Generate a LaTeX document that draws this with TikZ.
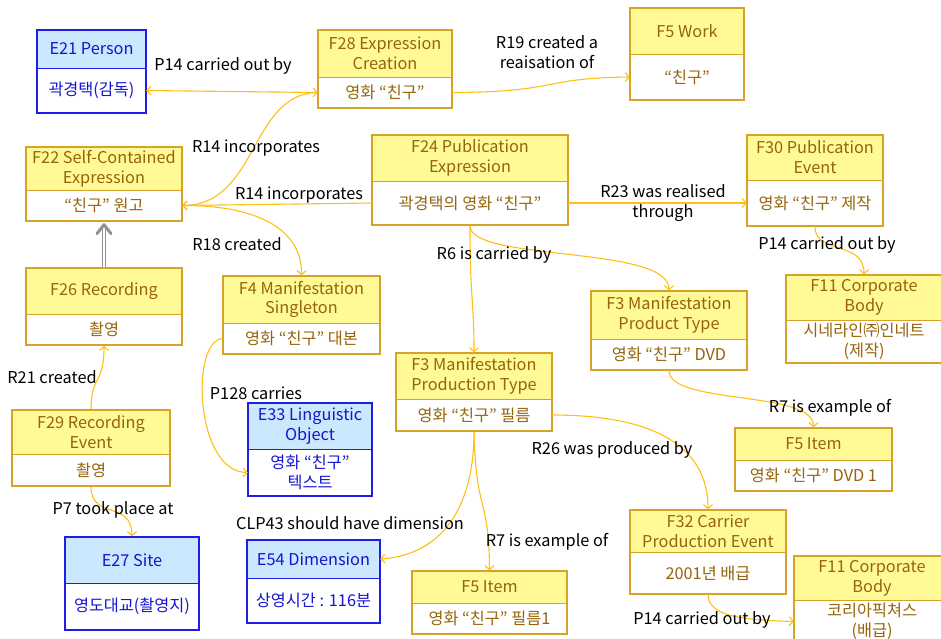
\documentclass[tikz,border=0pt]{standalone}
\usepackage{fontspec}
\setmainfont{Noto Sans CJK KR}
\usetikzlibrary{fit,calc,arrows.meta}
\definecolor{goldline}{RGB}{214,162,40}
\definecolor{goldfill}{RGB}{255,250,150}
\definecolor{goldtxt}{RGB}{150,100,10}
\definecolor{blueline}{RGB}{30,30,230}
\definecolor{bluefill}{RGB}{204,232,255}
\definecolor{bluetxt}{RGB}{20,20,210}
\definecolor{conn}{RGB}{255,192,20}
\definecolor{grayarr}{RGB}{145,145,145}
\tikzset{
  txt/.style={font=\fontsize{16.3}{19.8}\selectfont, align=center, inner sep=0pt},
  goldtext/.style={txt, text=goldtxt},
  bluetext/.style={txt, text=bluetxt},
  lbl/.style={txt, text=black},
  link/.style={draw=conn, line width=1.1pt, -{Straight Barb[length=4pt,width=9pt]}},
  blink/.style={draw=conn, line width=1.1pt, {Straight Barb[length=4pt,width=9pt]}-{Straight Barb[length=4pt,width=9pt]}},
  isa/.style={draw=grayarr, double=white, double distance=1.8pt, line width=1.5pt, shorten >=3pt},
  isahead/.style={draw=grayarr, line width=3pt, line cap=round, line join=round},
}
% #1 name, #2 gold/blue, #3 x1, #4 ytop, #5 x2, #6 ydiv, #7 ybot, #8 head, #9 body
\newcommand{\twobox}[9]{%
  \node[fit={(#3,#4) (#5,#6)}, inner sep=0pt, fill=#2fill] (#1h) {};
  \node[fit={(#3,#6) (#5,#7)}, inner sep=0pt, fill=white] (#1b) {};
  \node[fit={(#3,#4) (#5,#7)}, inner sep=0pt, draw=#2line, line width=1.3pt] (#1) {};
  \draw[draw=#2line, line width=1.3pt] (#1h.south west) -- (#1h.south east);
  \node[#2text] (#1ht) at (#1h.center) {#8};
  \node[#2text] (#1bt) at (#1b.center) {#9};
}
\begin{document}
\begin{tikzpicture}[x=1pt,y=-1pt]
\useasboundingbox (0,0) rectangle (941,638);
\fill[white] (0,0) rectangle (941,638);

\twobox{E21}{blue}{37}{30}{146}{68}{113}{E21 Person}{곽경택(감독)}
\twobox{F28}{gold}{318}{30}{452}{77}{108}{F28 Expression\\Creation}{영화 “친구”}
\twobox{F5W}{gold}{630}{8}{744}{54}{100}{F5 Work}{“친구”}
\twobox{F22}{gold}{26}{147}{182}{190}{221}{F22 Self-Contained\\Expression}{“친구” 원고}
\twobox{F24}{gold}{372}{135}{568}{181}{225}{F24 Publication\\Expression}{곽경택의 영화 “친구”}
\twobox{F30}{gold}{747}{135}{883}{180}{226}{F30 Publication\\Event}{영화 “친구” 제작}
\twobox{F26}{gold}{26}{268}{182}{314}{345}{F26 Recording}{촬영}
\twobox{F4}{gold}{223}{276}{380}{323}{354}{F4 Manifestation\\Singleton}{영화 “친구” 대본}
\twobox{F3P}{gold}{591}{291}{747}{339}{370}{F3 Manifestation\\Product Type}{영화 “친구” DVD}
\twobox{F11A}{gold}{786}{275}{942}{320}{363}{F11 Corporate\\Body}{시네라인㈜인네트\\(제작)}
\twobox{F3F}{gold}{396}{353}{552}{399}{431}{F3 Manifestation\\Production Type}{영화 “친구” 필름}
\twobox{E33}{blue}{248}{403}{372}{449}{496}{E33 Linguistic\\Object}{영화 “친구”\\텍스트}
\twobox{F29}{gold}{12}{410}{170}{454}{486}{F29 Recording\\Event}{촬영}
\twobox{F5D}{gold}{735}{428}{892}{460}{491}{F5 Item}{영화 “친구” DVD 1}
\twobox{F32}{gold}{630}{510}{786}{552}{594}{F32 Carrier\\Production Event}{2001년 배급}
\twobox{E27}{blue}{65}{537}{199}{583}{630}{E27 Site}{영도대교(촬영지)}
\twobox{E54}{blue}{247}{540}{380}{578}{623}{E54 Dimension}{상영시간 : 116분}
\twobox{F5F}{gold}{412}{571}{567}{603}{634}{F5 Item}{영화 “친구” 필름1}
\twobox{F11B}{gold}{794}{556}{950}{600}{643}{F11 Corporate\\Body}{코리아픽쳐스\\(배급)}

% connectors
\draw[blink] (E21b.east) -- (F28b.west);
\draw[link] (F28b.west) .. controls (250,93) and (258,205) .. (F22b.east);
\draw[link] (F24b.west) -- (F22b.east);
\draw[link] (F22b.east) .. controls (255,205) and (302,228) .. (F4.north);
\draw[link] (F28b.east) .. controls (560,92) and (540,78) .. (F5Wb.west);
\draw[link] (F24b.east) -- (F30b.west);
\draw[link] (F24.south) .. controls (470,300) and (474,300) .. (F3F.north);
\draw[link] (F24.south) .. controls (470,262) and (669,245) .. (F3P.north);
\draw[link] (F30.south) .. controls (815,255) and (864,240) .. (F11A.north);
\draw[link] (F3P.south) .. controls (669,405) and (814,390) .. (F5D.north);
\draw[link] (F3Fb.east) .. controls (660,415) and (708,450) .. (F32.north);
\draw[link] (F3F.south) .. controls (476,515) and (489,495) .. (F5F.north);
\draw[link] (F3F.south) .. controls (474,510) and (440,555) .. (E54h.east);
\draw[link] (F32.south) .. controls (708,618) and (750,620) .. (F11Bb.west);
\draw[link] (F4b.west) .. controls (190,340) and (195,472) .. (E33b.west);
\draw[link] (F29.north) .. controls (91,375) and (104,385) .. (F26.south);
\draw[link] (F29.south) .. controls (91,520) and (132,500) .. (E27.north);
\draw[isa] (F26.north) -- (F22.south);
\draw[isahead] ($(F22.south)+(-7,12)$) -- ($(F22.south)+(0,3)$) -- ($(F22.south)+(7,12)$);

% labels
\node[lbl] (l1) at (223,66) {P14 carried out by};
\node[lbl] (l2) at (547,52) {R19 created a\\reaisation of};
\node[lbl] (l3) at (256,148) {R14 incorporates};
\node[lbl] (l4) at (299,195) {R14 incorporates};
\node[lbl] (l5) at (663,203) {R23 was realised\\through};
\node[lbl] (l6) at (237,244) {R18 created};
\node[lbl] (l7) at (494,255) {R6 is carried by};
\node[lbl] (l8) at (827,245) {P14 carried out by};
\node[lbl] (l9) at (52,377) {R21 created};
\node[lbl] (l10) at (256,393) {P128 carries};
\node[lbl] (l11) at (830,408) {R7 is example of};
\node[lbl] (l12) at (612,450) {R26 was produced by};
\node[lbl] (l13) at (113,510) {P7 took place at};
\node[lbl] (l14) at (350,523) {CLP43 should have dimension};
\node[lbl] (l15) at (547,542) {R7 is example of};
\node[lbl] (l16) at (702,620) {P14 carried out by};
\end{tikzpicture}
\end{document}
